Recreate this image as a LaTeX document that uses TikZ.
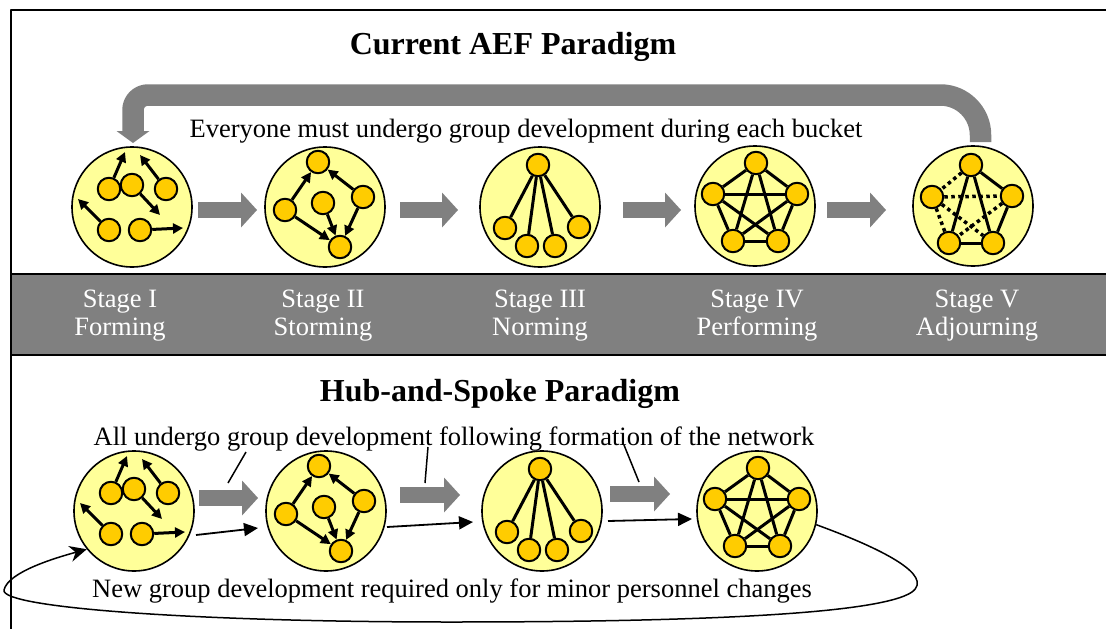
\documentclass[tikz,border=0pt]{standalone}
\usepackage{fontspec}
\setmainfont{Liberation Serif}
\usetikzlibrary{arrows.meta}

\definecolor{groupfill}{HTML}{FFFF99}
\definecolor{memberfill}{HTML}{FFCC00}
\definecolor{bandgray}{HTML}{808080}

\tikzset{
  group/.style={circle, draw=black, line width=1.6pt, fill=groupfill, minimum size=120pt, inner sep=0pt},
  member/.style={circle, draw=black, line width=2pt, fill=memberfill, minimum size=22.5pt, inner sep=0pt},
  tie/.style={line width=3pt},
  weaktie/.style={line width=3.5pt, dash pattern=on 3.5pt off 3.5pt},
  push/.style={line width=3pt, -{Triangle[length=10pt,width=10pt]}},
  blockarrow/.style={line width=16pt, draw=bandgray, -{Triangle[length=16pt,width=35pt,line width=0pt]}},
  flow/.style={line width=1.8pt, -{Triangle[length=14pt,width=13pt]}},
  leader/.style={line width=1.5pt},
  heading/.style={font=\fontsize{32}{34}\selectfont\bfseries, anchor=base, inner sep=0pt},
  caption/.style={font=\fontsize{26.5}{28}\selectfont, anchor=base, inner sep=0pt},
  stagelabel/.style={font=\fontsize{26.5}{28}\selectfont, text=white, align=center, inner sep=0pt},
  % Stage I: members pulling in different directions
  forming/.pic={
    \node[group] (c) at (0,0) {};
    \node[member] (a) at (-23,-18) {};
    \node[member] (b) at (0,-22) {};
    \node[member] (m) at (34,-18) {};
    \node[member] (d) at (-23,23) {};
    \node[member] (e) at (8,23) {};
    \coordinate (ta) at (-7,-55);
    \coordinate (tm) at (8,-52);
    \coordinate (tb) at (28,8);
    \coordinate (td) at (-54,-8);
    \coordinate (te) at (51,21);
    \draw[push] (a) -- (ta);
    \draw[push] (m) -- (tm);
    \draw[push] (b) -- (tb);
    \draw[push] (d) -- (td);
    \draw[push] (e) -- (te);
  },
  % Stage II: conflicting directed links
  storming/.pic={
    \node[group] (c) at (0,0) {};
    \node[member] (t) at (-7,-45) {};
    \node[member] (l) at (-40,3) {};
    \node[member] (m) at (-2,-4) {};
    \node[member] (r) at (38,-10) {};
    \node[member] (b) at (15,40) {};
    \draw[push] (l) -- (t);
    \draw[push] (r) -- (t);
    \draw[push] (l) -- (b);
    \draw[push] (m) -- (b);
    \draw[push] (r) -- (b);
  },
  % Stage III: everyone tied to one leader
  norming/.pic={
    \node[group] (c) at (0,0) {};
    \node[member] (t) at (-2,-42) {};
    \node[member] (n1) at (-35,21) {};
    \node[member] (n2) at (-13,39) {};
    \node[member] (n3) at (15,39) {};
    \node[member] (n4) at (39,20) {};
    \foreach \k in {n1,n2,n3,n4} \draw[tie] (t) -- (\k);
  },
  % Stage IV: fully connected team
  performing/.pic={
    \node[group] (c) at (0,0) {};
    \node[member] (t) at (1,-43) {};
    \node[member] (l) at (-42,-12) {};
    \node[member] (r) at (42,-12) {};
    \node[member] (bl) at (-22,35) {};
    \node[member] (br) at (23,35) {};
    \draw[tie] (t) -- (l);
    \draw[tie] (t) -- (r);
    \draw[tie] (l) -- (bl);
    \draw[tie] (r) -- (br);
    \draw[tie] (bl) -- (br);
    \draw[tie] (t) -- (bl);
    \draw[tie] (t) -- (br);
    \draw[tie] (l) -- (r);
    \draw[tie] (l) -- (br);
    \draw[tie] (r) -- (bl);
  },
  % Stage V: ties loosening as the team dissolves
  adjourning/.pic={
    \node[group] (c) at (0,0) {};
    \node[member] (t) at (-2,-41) {};
    \node[member] (l) at (-41,-9) {};
    \node[member] (r) at (39,-10) {};
    \node[member] (bl) at (-24,37) {};
    \node[member] (br) at (20,37) {};
    \draw[tie] (t) -- (bl);
    \draw[tie] (t) -- (br);
    \draw[tie] (t) -- (r);
    \draw[tie] (r) -- (br);
    \draw[tie] (bl) -- (br);
    \draw[weaktie] (t) -- (l);
    \draw[weaktie] (l) -- (r);
    \draw[weaktie] (l) -- (br);
    \draw[weaktie] (r) -- (bl);
    \draw[weaktie] (l) -- (bl);
  },
}

\begin{document}
\begin{tikzpicture}[x=1pt, y=-1pt, line join=round]
\useasboundingbox (0,0) rectangle (1106,629);
\fill[white] (0,0) rectangle (1106,629);

% outer frame and stage band
\draw[line width=2pt] (11,10) rectangle (1130,650);
\draw[line width=2pt, fill=bandgray] (11,274) rectangle (1130,355);

% ---------- current paradigm ----------
\node[heading] (title1) at (513,54) {Current AEF Paradigm};

\draw[line width=21.5pt, draw=bandgray, -{Triangle[length=12pt,width=33pt,line width=0pt]}]
  (980.5,142) -- (980.5,135) .. controls (980.5,113) and (962.5,95) .. (940.5,95)
  -- (148,95) .. controls (139.7,95) and (133,101.7) .. (133,110) -- (133,143);

\node[caption] (note1) at (526,137) {Everyone must undergo group development during each bucket};

\pic (s1) at (132,207) {forming};
\pic (s2) at (325,207) {storming};
\pic (s3) at (540,207) {norming};
\pic (s4) at (755,206) {performing};
\pic (s5) at (973,206) {adjourning};

\coordinate (g1a) at (198,210); \coordinate (g1b) at (257,210);
\coordinate (g2a) at (400,210); \coordinate (g2b) at (458,210);
\coordinate (g3a) at (623,210); \coordinate (g3b) at (681,210);
\coordinate (g4a) at (827,210); \coordinate (g4b) at (886,210);
\draw[blockarrow] (g1a) -- (g1b);
\draw[blockarrow] (g2a) -- (g2b);
\draw[blockarrow] (g3a) -- (g3b);
\draw[blockarrow] (g4a) -- (g4b);

\node[stagelabel] (lab1) at (120,316) {Stage I\\Forming};
\node[stagelabel] (lab2) at (323,316) {Stage II\\Storming};
\node[stagelabel] (lab3) at (540,316) {Stage III\\Norming};
\node[stagelabel] (lab4) at (757,316) {Stage IV\\Performing};
\node[stagelabel] (lab5) at (977,316) {Stage V\\Adjourning};

% ---------- hub-and-spoke paradigm ----------
\node[heading] (title2) at (500,401) {Hub-and-Spoke Paradigm};
\node[caption] (note2) at (454,445) {All undergo group development following formation of the network};

\pic (h1) at (134,511) {forming};
\pic (h2) at (326,511) {storming};
\pic (h3) at (542,511) {norming};
\pic (h4) at (757,511) {performing};

\coordinate (k1a) at (199,498); \coordinate (k1b) at (258,498);
\coordinate (k2a) at (400,495); \coordinate (k2b) at (460,495);
\coordinate (k3a) at (610,494); \coordinate (k3b) at (670,494);
\draw[blockarrow] (k1a) -- (k1b);
\draw[blockarrow] (k2a) -- (k2b);
\draw[blockarrow] (k3a) -- (k3b);

\coordinate (f1a) at (196,535); \coordinate (f1b) at (258,528);
\coordinate (f2a) at (387,527); \coordinate (f2b) at (473,522);
\coordinate (f3a) at (608,521); \coordinate (f3b) at (692,519);
\draw[flow] (f1a) -- (f1b);
\draw[flow] (f2a) -- (f2b);
\draw[flow] (f3a) -- (f3b);

\coordinate (p1a) at (246,452); \coordinate (p1b) at (228,483);
\coordinate (p2a) at (428,447); \coordinate (p2b) at (425,483);
\coordinate (p3a) at (624,445); \coordinate (p3b) at (639,482);
\draw[leader] (p1a) -- (p1b);
\draw[leader] (p2a) -- (p2b);
\draw[leader] (p3a) -- (p3b);

\node[caption] (note3) at (452,597) {New group development required only for minor personnel changes};

% loop back to forming for personnel changes
\draw[line width=1.5pt, -{Stealth[length=17pt,width=16pt]}]
  (h4c.-13) .. controls (880,548) and (935,575) .. (912,592)
  .. controls (880,614) and (700,622) .. (450,622)
  .. controls (200,622) and (0,608) .. (4,590)
  .. controls (8,572) and (55,558) .. (h1c.-141);
\end{tikzpicture}
\end{document}
